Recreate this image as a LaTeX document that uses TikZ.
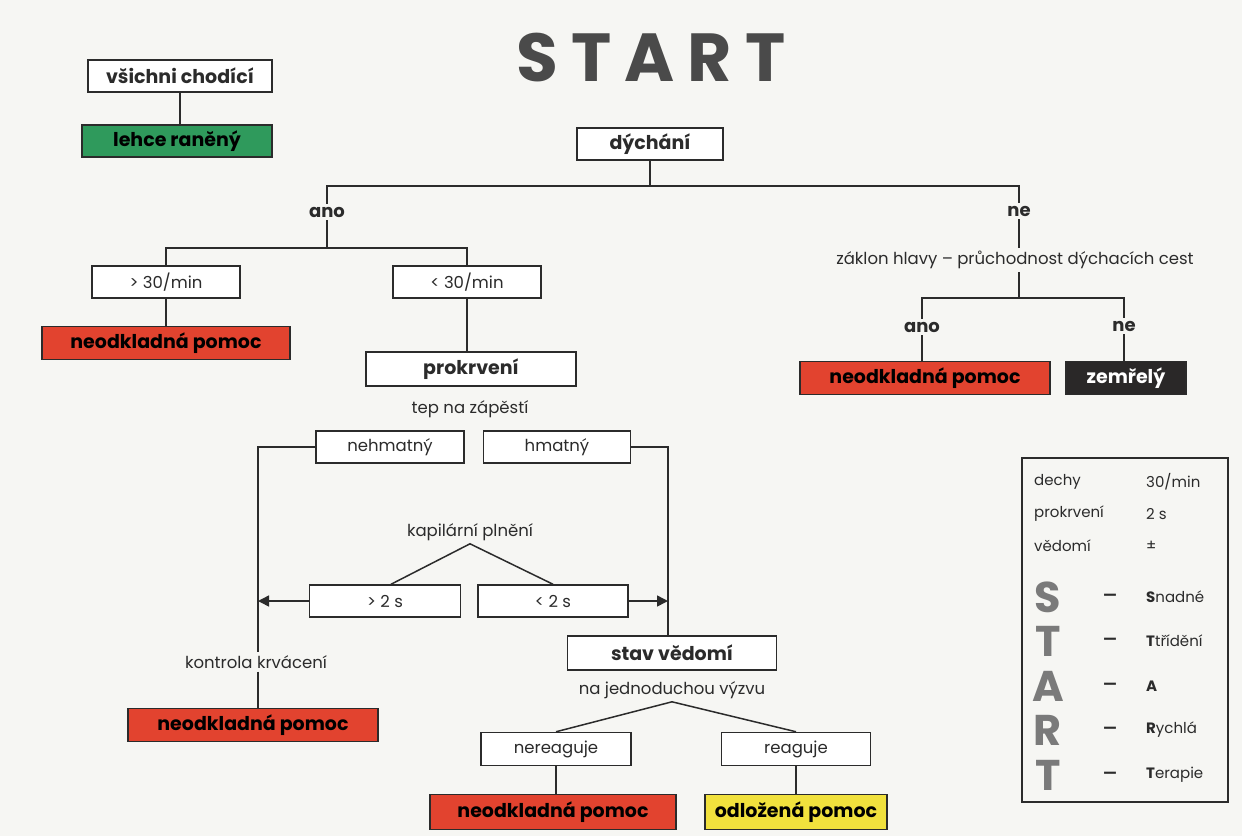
\documentclass[tikz,border=0pt]{standalone}
\usepackage{fontspec}
\setmainfont{Poppins}
\usepackage{tikz}
\usetikzlibrary{arrows.meta}
\definecolor{paper}{HTML}{F6F6F3}
\definecolor{ink}{HTML}{2B2B2B}
\definecolor{urgred}{HTML}{E2432F}
\definecolor{mildgreen}{HTML}{2F9A5C}
\definecolor{lateyellow}{HTML}{F1E13D}
\definecolor{deadgray}{HTML}{2A2828}
\definecolor{titlegray}{HTML}{4A4A4A}
\definecolor{keygray}{HTML}{7A7A7A}

\begin{document}
\begin{tikzpicture}[x=1pt, y=-1pt, >={Triangle[length=11pt, width=11pt]},
	box/.style={draw=ink, line width=1.5pt, fill=white, text=ink, inner sep=0pt,
		minimum height=32, font=\fontsize{16.5}{18}\selectfont},
	bbox/.style={box, font=\fontsize{19}{20}\selectfont\bfseries},
	urgent/.style={bbox, fill=urgred, text=black, minimum height=33},
	dead/.style={bbox, fill=deadgray, text=white, minimum height=33},
	lbl/.style={text=ink, inner sep=3pt, font=\fontsize{16.5}{18}\selectfont},
	yes/.style={lbl, font=\fontsize{18}{20}\selectfont\bfseries},
	conn/.style={draw=ink, line width=1.5pt},
	keytext/.style={text=ink, inner sep=0pt, anchor=west, font=\fontsize{15}{17}\selectfont}]
				% page
				\fill[paper] (0,0) rectangle (1242,836);
				% title
				\node[text=titlegray, font=\fontsize{68}{70}\selectfont\bfseries] (title) at (651,58)
					{S\hspace{13pt}T\hspace{13pt}A\hspace{13pt}R\hspace{13pt}T};
				% walking
				\node[bbox, minimum width=184] (walk) at (180,76) {všichni chodící};
				\node[bbox, fill=mildgreen, text=black, minimum width=190] (light) at (177,141) {lehce raněný};
				\draw[conn] (walk) -- (walk |- light.north);
				% breathing
				\node[bbox, minimum width=146] (breath) at (650,144) {dýchání};
				\coordinate (split) at (650,186);
				\node[yes] (yes1) at (327,212) {ano};
				\node[yes] (no1) at (1019,211) {ne};
				\draw[conn] (breath.south) -- (split) -| (yes1.north);
				\draw[conn] (split) -| (no1.north);
				% rate
				\coordinate (fork1) at (327,248);
				\node[box, minimum width=148] (fast) at (166,282) {> 30/min};
				\node[box, minimum width=148] (slow) at (467,282) {< 30/min};
				\draw[conn] (yes1.south) -- (fork1) -| (fast.north);
				\draw[conn] (fork1) -| (slow.north);
				\node[urgent, minimum width=248] (urg1) at (166,343) {neodkladná pomoc};
				\draw[conn] (fast) -- (urg1);
				% perfusion
				\node[bbox, minimum width=210, minimum height=34] (perf) at (471,369) {prokrvení};
				\draw[conn] (slow) -- (slow |- perf.north);
				\node[lbl] (pulse) at (470,409) {tep na zápěstí};
				\node[box, minimum width=148] (nopulse) at (390,447) {nehmatný};
				\node[box, minimum width=147] (pulseok) at (557,447) {hmatný};
				% capillary refill
				\node[lbl] (capil) at (470,532) {kapilární plnění};
				\node[box, minimum width=151] (gt2) at (385,601) {> 2 s};
				\node[box, minimum width=150] (lt2) at (553,601) {< 2 s};
				\draw[conn] ([xshift=6]gt2.north) -- (capil.south) -- (lt2.north);
				% bleeding
				\coordinate (lcorner) at (258,447);
				\node[lbl] (bleed) at (256,662) {kontrola krvácení};
				\node[urgent, minimum width=250] (urg2) at (253,725) {neodkladná pomoc};
				\draw[conn] (nopulse.west) -- (lcorner) -- (lcorner |- bleed.north);
				\draw[conn] (lcorner |- bleed.south) -- (lcorner |- urg2.north);
				\draw[conn, ->] (gt2.west) -- (gt2.west -| lcorner);
				% consciousness
				\coordinate (rcorner) at (668,447);
				\node[bbox, minimum width=209, minimum height=34] (aware) at (672,653) {stav vědomí};
				\draw[conn] (pulseok.east) -- (rcorner) -- (rcorner |- aware.north);
				\draw[conn, ->] (lt2.east) -- (lt2.east -| rcorner);
				\node[lbl] (call) at (672,690) {na jednoduchou výzvu};
				\node[box, minimum width=150, minimum height=33] (noreact) at (556,749) {nereaguje};
				\node[box, minimum width=149, minimum height=33] (react) at (796,749) {reaguje};
				\draw[conn] (noreact.north) -- (call.south) -- (react.north);
				\node[urgent, minimum width=246, minimum height=35] (urg3) at (553,812) {neodkladná pomoc};
				\node[bbox, fill=lateyellow, text=black, minimum width=182, minimum height=35] (delay) at (796,812) {odložená pomoc};
				\draw[conn] (noreact) -- (noreact |- urg3.north);
				\draw[conn] (react) -- (react |- delay.north);
				% airway
				\node[lbl] (airway) at (1015,260) {záklon hlavy – průchodnost dýchacích cest};
				\draw[conn] (no1.south) -- (no1 |- airway.north);
				\coordinate (fork2) at (1019,298);
				\node[yes] (yes2) at (922,327) {ano};
				\node[yes] (no2) at (1124,326) {ne};
				\draw[conn] (airway.south -| fork2) -- (fork2) -| (yes2.north);
				\draw[conn] (fork2) -| (no2.north);
				\node[urgent, minimum width=250] (urg4) at (925,378) {neodkladná pomoc};
				\node[dead, minimum width=120] (died) at (1126,378) {zemřelý};
				\draw[conn] (yes2.south) -- (yes2 |- urg4.north);
				\draw[conn] (no2.south) -- (no2 |- died.north);
				% legend
				\node[draw=ink, line width=1.5pt, inner sep=0pt, minimum width=206, minimum height=344] (legend) at (1125,630) {};
				\node[keytext] (k1) at (1034,482) {dechy};
				\node[keytext] (v1) at (1146,482) {30/min};
				\node[keytext] (k2) at (1034,514) {prokrvení};
				\node[keytext] (v2) at (1146,514) {2 s};
				\node[keytext] (k3) at (1034,546) {vědomí};
				\node[keytext] (v3) at (1146,546) {±};
				\foreach \y/\c/\w [count=\i] in {597/S/{\textbf{S}nadné}, 641/T/{\textbf{T}třídění},
						686/A/{\textbf{A}}, 730/R/{\textbf{R}ychlá}, 775/T/{\textbf{T}erapie}} {
					\node[text=keygray, font=\fontsize{43}{45}\selectfont\bfseries] (L\i) at (1048,\y) {\c};
					\node[text=ink, font=\fontsize{15}{17}\selectfont\bfseries] (D\i) at (1110,\y) {—};
					\node[keytext] (W\i) at (1146,\y) {\w};
				}
			\end{tikzpicture}
\end{document}
